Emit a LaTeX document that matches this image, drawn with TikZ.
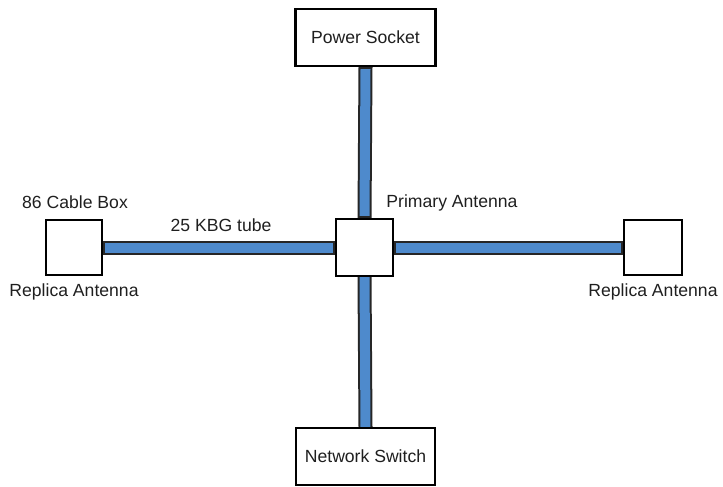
\documentclass[tikz,border=0pt]{standalone}
\usepackage{fontspec}
\setmainfont{Liberation Sans}
\begin{document}
\begin{tikzpicture}[x=1pt,y=-1pt,
  box/.style={draw=black,line width=2.2pt,fill=white,inner sep=0pt},
  lbl/.style={font=\fontsize{17.6}{19}\selectfont,inner sep=0pt,text=black!88},
  tubeout/.style={line width=14pt,draw=black!85},
  tubein/.style={line width=10pt,draw={rgb,255:red,78;green,138;blue,204}}]
\useasboundingbox (0,0) rectangle (723,487);
\node[box,minimum width=140pt,minimum height=57pt] (ps) at (365.5,37.5) {};
\node[box,minimum width=139pt,minimum height=57pt] (ns) at (365.5,456.5) {};
\node[box,minimum width=57pt,minimum height=57pt] (pa) at (364.5,247.5) {};
\node[box,minimum width=56pt,minimum height=55pt] (la) at (74,247.5) {};
\node[box,minimum width=58pt,minimum height=55pt] (ra) at (653,247.5) {};
% tubes
\draw[tubeout] (ps.south) -- (pa.north);
\draw[tubeout] (pa.south) -- (ns.north);
\draw[tubeout] (la.east) -- (pa.west);
\draw[tubeout] (pa.east) -- (ra.west);
\draw[tubein] ([yshift=-2pt]ps.south) -- ([yshift=2pt]pa.north);
\draw[tubein] ([yshift=2pt]pa.south) -- ([yshift=-2pt]ns.north);
\draw[tubein] ([xshift=2pt]la.east) -- ([xshift=-2pt]pa.west);
\draw[tubein] ([xshift=2pt]pa.east) -- ([xshift=-2pt]ra.west);
% redraw boxes on top
\node[box,minimum width=140pt,minimum height=57pt] at (ps) {};
\node[box,minimum width=139pt,minimum height=57pt] at (ns) {};
\node[box,minimum width=57pt,minimum height=57pt] at (pa) {};
\node[box,minimum width=56pt,minimum height=55pt] at (la) {};
\node[box,minimum width=58pt,minimum height=55pt] at (ra) {};
% labels
\node[lbl] (tps) at (ps) {Power Socket};
\node[lbl] (tns) at (ns) {Network Switch};
\node[lbl] (tpa) at (452,203) {Primary Antenna};
\node[lbl] (tcb) at (75,202) {86 Cable Box};
\node[lbl] (tla) at (74,292) {Replica Antenna};
\node[lbl] (tra) at (653,292) {Replica Antenna};
\node[lbl] (tube) at (221,225) {25 KBG tube};
\end{tikzpicture}
\end{document}
